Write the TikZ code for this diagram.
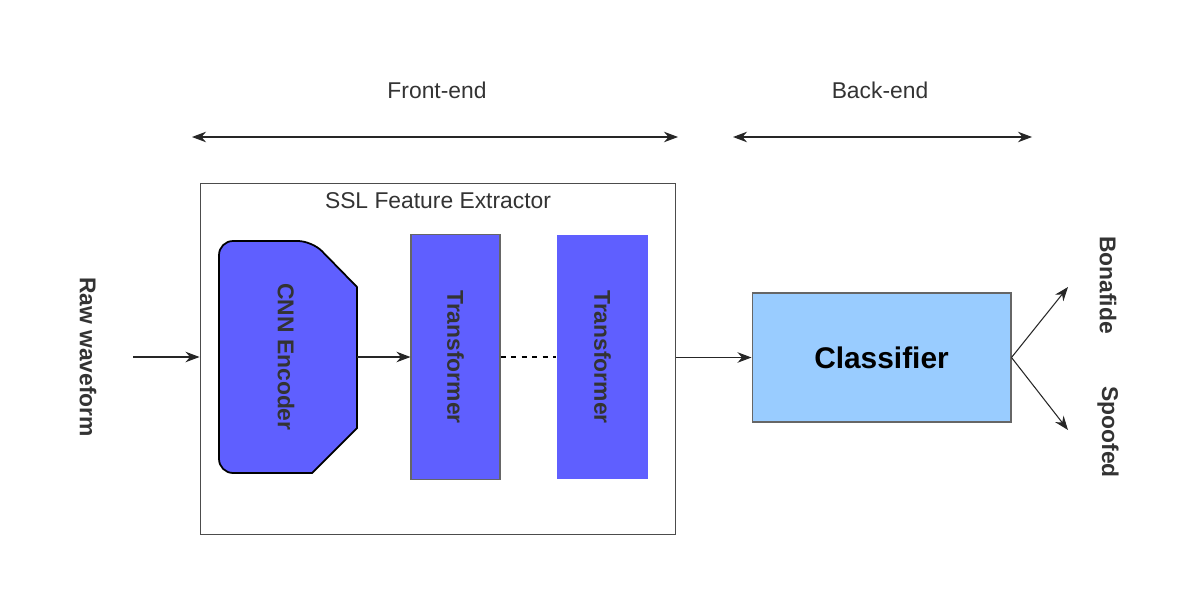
\documentclass[tikz,border=0pt]{standalone}
\usepackage{fontspec}
\setmainfont{Liberation Sans}
\usetikzlibrary{positioning,arrows.meta}
\begin{document}
\begin{tikzpicture}
[
x=0.02cm,y=-0.02cm,
lbl/.style={font=\fontsize{13}{15}\selectfont,text=black!80},
vlbl/.style={lbl,rotate=-90},
block/.style={draw=black!60,fill=#1,line width=0.6pt,inner sep=0pt},
arr/.style={-{Stealth[length=8pt,width=6pt]},line width=0.6pt,black!85},
span/.style={{Stealth[length=8pt,width=6pt]}-{Stealth[length=8pt,width=6pt]},line width=0.6pt,black!85},
]
\useasboundingbox (0,0) rectangle (1200,595);
\definecolor{blk}{HTML}{5F5FFF}
\definecolor{cls}{HTML}{99CCFF}

%Place the nodes
\node[lbl] (fe) at (437,90) {Front-end};
\node[lbl] (be) at (880,90) {Back-end};
\coordinate (fa) at (192,137); \coordinate (fb) at (678,137);
\coordinate (ba) at (733,137); \coordinate (bb) at (1032,137);
\node[draw=black!70,line width=0.6pt,minimum width=476\pgflinewidth,inner sep=0pt,
  minimum width=9.52cm,minimum height=7.04cm] (ssl) at (438,359) {};
\node[lbl,below=2pt of ssl.north] (title) {SSL Feature Extractor};
\draw[block=blk,line width=1pt,draw=black,rounded corners=8pt]
  (219,241) -- (312,241) [sharp corners] -- (357,287) -- (357,428) -- (312,473)
  [rounded corners=8pt] -- (219,473) -- cycle;
\node[vlbl,font=\fontsize{13}{15}\selectfont\bfseries] (cnn) at (286,357) {CNN Encoder};
\coordinate (cnnr) at (357,357);
\node[block=blk,minimum width=1.78cm,minimum height=4.9cm] (t1) at (455.5,357) {};
\node[vlbl,font=\fontsize{13}{15}\selectfont\bfseries] at (t1) {Transformer};
\node[block=blk,draw=none,minimum width=1.82cm,minimum height=4.9cm] (t2) at (602.5,357) {};
\node[vlbl,font=\fontsize{13}{15}\selectfont\bfseries] at (t2) {Transformer};
\node[block=cls,minimum width=5.18cm,minimum height=2.58cm,
  font=\fontsize{17}{19}\selectfont\bfseries] (clf) at (881.5,357.5) {Classifier};
\node[vlbl,font=\fontsize{13}{15}\selectfont\bfseries] (raw) at (88,357) {Raw waveform};
\coordinate (rawr) at (133,357);
\node[vlbl,font=\fontsize{13}{15}\selectfont\bfseries] (bona) at (1108,285) {Bonafide};
\node[vlbl,font=\fontsize{13}{15}\selectfont\bfseries] (spoof) at (1108,432) {Spoofed};
\coordinate (o1) at (1068,287); \coordinate (o2) at (1068,430);

%Draw the connections
\draw[span] (fa) -- (fb);
\draw[span] (ba) -- (bb);
\draw[arr] (rawr) -- (ssl.west |- rawr);
\draw[arr] (cnnr) -- (t1.west |- cnnr);
\draw[dashed,line width=0.6pt] (t1.east) -- (t2.west);
\draw[arr] (ssl.east |- clf) -- (clf.west);
\draw[arr] (clf.east) -- (o1);
\draw[arr] (clf.east) -- (o2);
\end{tikzpicture}
\end{document}
